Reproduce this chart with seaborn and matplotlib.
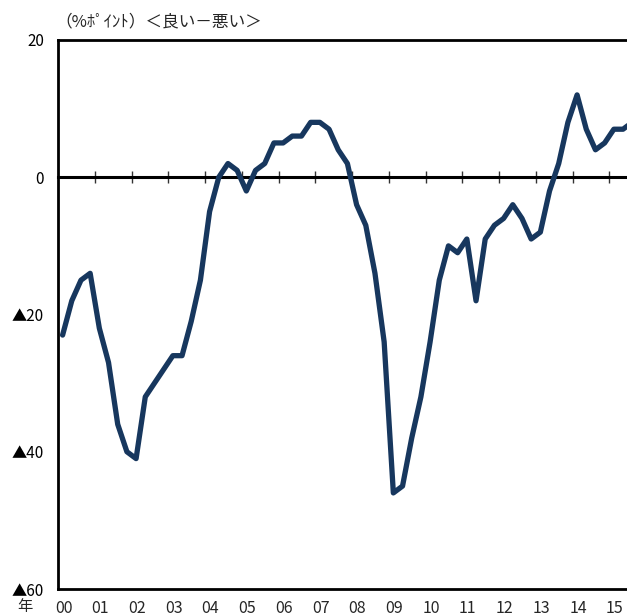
import numpy as np
import pandas as pd
import matplotlib
matplotlib.use("Agg")
import matplotlib.pyplot as plt
import seaborn as sns

# ── データ（四半期、2000年1-3月期〜2015年7-9月期） ──────────────────────────
start_quarter = "2000Q1"
di_values = [
    -23, -18, -15, -14,   # 2000
    -22, -27, -36, -40,   # 2001
    -41, -32, -30, -28,   # 2002
    -26, -26, -21, -15,   # 2003
    -5, 0, 2, 1,          # 2004
    -2, 1, 2, 5,          # 2005
    5, 6, 6, 8,           # 2006
    8, 7, 4, 2,           # 2007
    -4, -7, -14, -24,     # 2008
    -46, -45, -38, -32,   # 2009
    -24, -15, -10, -11,   # 2010
    -9, -18, -9, -7,      # 2011
    -6, -4, -6, -9,       # 2012
    -8, -2, 2, 8,         # 2013
    12, 7, 4, 5,          # 2014
    7, 7, 8,              # 2015
]
year_labels = ["00", "01", "02", "03", "04", "05", "06", "07",
               "08", "09", "10", "11", "12", "13", "14", "15"]
ytick_values = [-60, -40, -20, 0, 20]
ytick_labels = ["▲60", "▲40", "▲20", "0", "20"]
unit_label = "（%ﾎﾟｲﾝﾄ）＜良い－悪い＞"

periods = pd.period_range(start_quarter, periods=len(di_values), freq="Q")
df = pd.DataFrame({
    "x": periods.year + (periods.quarter - 0.5) / 4,
    "di": di_values,
})
first_year = int(periods.year[0])
year_starts = first_year + np.arange(len(year_labels))

# ── スタイル ─────────────────────────────────────────────────────────────────
sns.set_style("white")
plt.rcParams["font.family"] = ["Noto Sans CJK JP", "DejaVu Sans"]

W, H = 627, 616
fig = plt.figure(figsize=(W / 100, H / 100), dpi=100)
ax = fig.add_axes([58 / W, 1 - 589 / H, 588 / W, 549 / H])

sns.lineplot(data=df, x="x", y="di", color="#17375E", linewidth=3.8,
             ax=ax, zorder=5)

ax.set_xlim(first_year, first_year + len(year_labels))
ax.set_ylim(-60, 20)

for side in ["left", "top", "bottom", "right"]:
    ax.spines[side].set_color("black")
    ax.spines[side].set_linewidth(2)

ax.set_yticks(ytick_values)
ax.set_yticklabels(ytick_labels)
ax.tick_params(axis="y", direction="in", length=4, width=1, pad=10,
               labelsize=11, colors="black")

ax.set_xticks(year_starts + 0.15)
ax.set_xticklabels(year_labels)
ax.tick_params(axis="x", length=0, pad=8, labelsize=11.5)
ax.set_xlabel("")
ax.set_ylabel("")

# ゼロ線と年区切りの目盛り
zero_pos = (0 - (-60)) / (20 - (-60))
secax = ax.secondary_xaxis(zero_pos)
secax.set_zorder(1)
for side in ["top", "bottom"]:
    secax.spines[side].set_linewidth(2.2)
    secax.spines[side].set_color("black")
secax.set_xticks(year_starts[1:])
secax.set_xticklabels([])
secax.tick_params(axis="x", direction="inout", length=9, width=1, color="#333333")

fig.text(25 / W, 0.5 / H, "年", ha="center", va="bottom", fontsize=11)
fig.text(55 / W, 1 - 22 / H, unit_label, ha="left", va="center", fontsize=12)

fig.savefig("out.png", dpi=100)
